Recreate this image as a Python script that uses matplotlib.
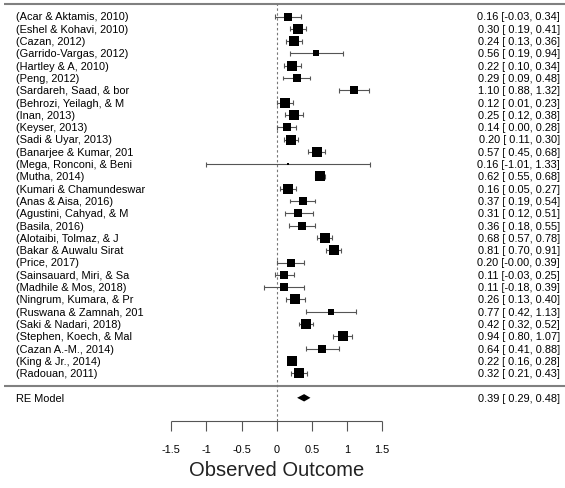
import numpy as np
import matplotlib
matplotlib.use("Agg")
import matplotlib.pyplot as plt

labels = [
    "(Acar & Aktamis, 2010)", "(Eshel & Kohavi, 2010)", "(Cazan, 2012)",
    "(Garrido-Vargas, 2012)", "(Hartley & A, 2010)", "(Peng, 2012)",
    "(Sardareh, Saad, & bor", "(Behrozi, Yeilagh, & M", "(Inan, 2013)",
    "(Keyser, 2013)", "(Sadi & Uyar, 2013)", "(Banarjee & Kumar, 201",
    "(Mega, Ronconi, & Beni", "(Mutha, 2014)", "(Kumari & Chamundeswar",
    "(Anas & Aisa, 2016)", "(Agustini, Cahyad, & M", "(Basila, 2016)",
    "(Alotaibi, Tolmaz, & J", "(Bakar & Auwalu Sirat", "(Price, 2017)",
    "(Sainsauard, Miri, & Sa", "(Madhile & Mos, 2018)", "(Ningrum, Kumara, & Pr",
    "(Ruswana & Zamnah, 201", "(Saki & Nadari, 2018)", "(Stephen, Koech, & Mal",
    "(Cazan A.-M., 2014)", "(King & Jr., 2014)", "(Radouan, 2011)",
]
est = [0.16, 0.30, 0.24, 0.56, 0.22, 0.29, 1.10, 0.12, 0.25, 0.14, 0.20, 0.57,
       0.16, 0.62, 0.16, 0.37, 0.31, 0.36, 0.68, 0.81, 0.20, 0.11, 0.11, 0.26,
       0.77, 0.42, 0.94, 0.64, 0.22, 0.32]
lower = [-0.03, 0.19, 0.13, 0.19, 0.10, 0.09, 0.88, 0.01, 0.12, 0.00, 0.11, 0.45,
         -1.01, 0.55, 0.05, 0.19, 0.12, 0.18, 0.57, 0.70, -0.0, -0.03, -0.18, 0.13,
         0.42, 0.32, 0.80, 0.41, 0.16, 0.21]
upper = [0.34, 0.41, 0.36, 0.94, 0.34, 0.48, 1.32, 0.23, 0.38, 0.28, 0.30, 0.68,
         1.33, 0.68, 0.27, 0.54, 0.51, 0.55, 0.78, 0.91, 0.39, 0.25, 0.39, 0.40,
         1.13, 0.52, 1.07, 0.88, 0.28, 0.43]
re_label = "RE Model"
re_est, re_lower, re_upper = 0.39, 0.29, 0.48
xticks = [-1.5, -1, -0.5, 0, 0.5, 1, 1.5]
xticklabels = ["-1.5", "-1", "-0.5", "0", "0.5", "1", "1.5"]
xlabel = "Observed Outcome"

# ---- weights (random-effects) to size the squares, derived from CIs ----
est_a = np.array(est); lo_a = np.array(lower); up_a = np.array(upper)
se = (up_a - lo_a) / 3.92
re_se = (re_upper - re_lower) / 3.92
target = 1 / re_se**2
a, b = 0.0, 2.0
for _ in range(80):
    m = (a + b) / 2
    if np.sum(1 / (se**2 + m)) > target:
        a = m
    else:
        b = m
tau2 = (a + b) / 2
w = 1 / (se**2 + tau2)
cex = 0.5 + (w - w.min()) / (w.max() - w.min())
side_px = 7.0 * cex - 1.0
ms = side_px * 72 / 100

# ---- figure / coordinates ----
W, H, DPI = 565, 489, 100
fig = plt.figure(figsize=(W / DPI, H / DPI), dpi=DPI)
ax = fig.add_axes([0, 0, 1, 1])
ax.set_axis_off()
px_per_unit = 70.3
x0px = 276.7
ax.set_xlim(-x0px / px_per_unit, (W - x0px) / px_per_unit)
row_px = 12.3
y0px = 386.5  # pixel (from top) of y=0
ax.set_ylim(-(H - y0px) / row_px, y0px / row_px)

def px2x(p):
    return (p - x0px) / px_per_unit

def px2y(p):
    return (y0px - p) / row_px

k = len(est)
rows = np.arange(k, 0, -1)
font = "Liberation Sans"
fs = 7.9

line_col = "#808080"
# top and separator lines
ax.hlines([k + 1, 0], px2x(4), px2x(565), color=line_col, lw=1.5)

# reference dotted line
axis_y = px2y(421.7)
ax.vlines(0, axis_y, k + 1, color="#777777", lw=0.8, linestyles=(0, (2.2, 2.2)))

cap = 0.2
ci_col = "#555555"
ax.hlines(rows, lo_a, up_a, color=ci_col, lw=0.8)
ax.vlines(lo_a, rows - cap, rows + cap, color=ci_col, lw=0.8)
ax.vlines(up_a, rows - cap, rows + cap, color=ci_col, lw=0.8)
for yi, xi, m in zip(rows, est_a, ms):
    ax.plot(xi, yi, marker="s", color="black", ms=m, mew=0, ls="none")

# RE diamond
dh = 0.3
ax.fill([re_lower, re_est, re_upper, re_est], [-1, -1 + dh, -1, -1 - dh],
        color="black", lw=0)

# text
lab_x = px2x(16)
ann_x = px2x(560)
for yi, lab, e, l, u in zip(rows, labels, est, lower, upper):
    ax.text(lab_x, yi, lab, ha="left", va="center", fontsize=fs, family=font)
    ax.text(ann_x, yi, f"{e:.2f} [{l:5.2f}, {u:.2f}]", ha="right", va="center",
            fontsize=fs, family=font)
ax.text(lab_x, -1, re_label, ha="left", va="center", fontsize=fs, family=font)
ax.text(ann_x, -1, f"{re_est:.2f} [{re_lower:5.2f}, {re_upper:.2f}]", ha="right",
        va="center", fontsize=fs, family=font)

# x axis
ax.hlines(axis_y, xticks[0], xticks[-1], color="#555555", lw=0.8)
tick_len = 10 / row_px
ax.vlines(xticks, axis_y - tick_len, axis_y, color="#555555", lw=0.8)
for t, tl in zip(xticks, xticklabels):
    ax.text(t, px2y(450.5), tl, ha="center", va="center", fontsize=fs, family=font)
ax.text(0, px2y(470.5), xlabel, ha="center", va="center", fontsize=14.5,
        family=font, color="#222222")

fig.savefig("out.png", dpi=DPI)
